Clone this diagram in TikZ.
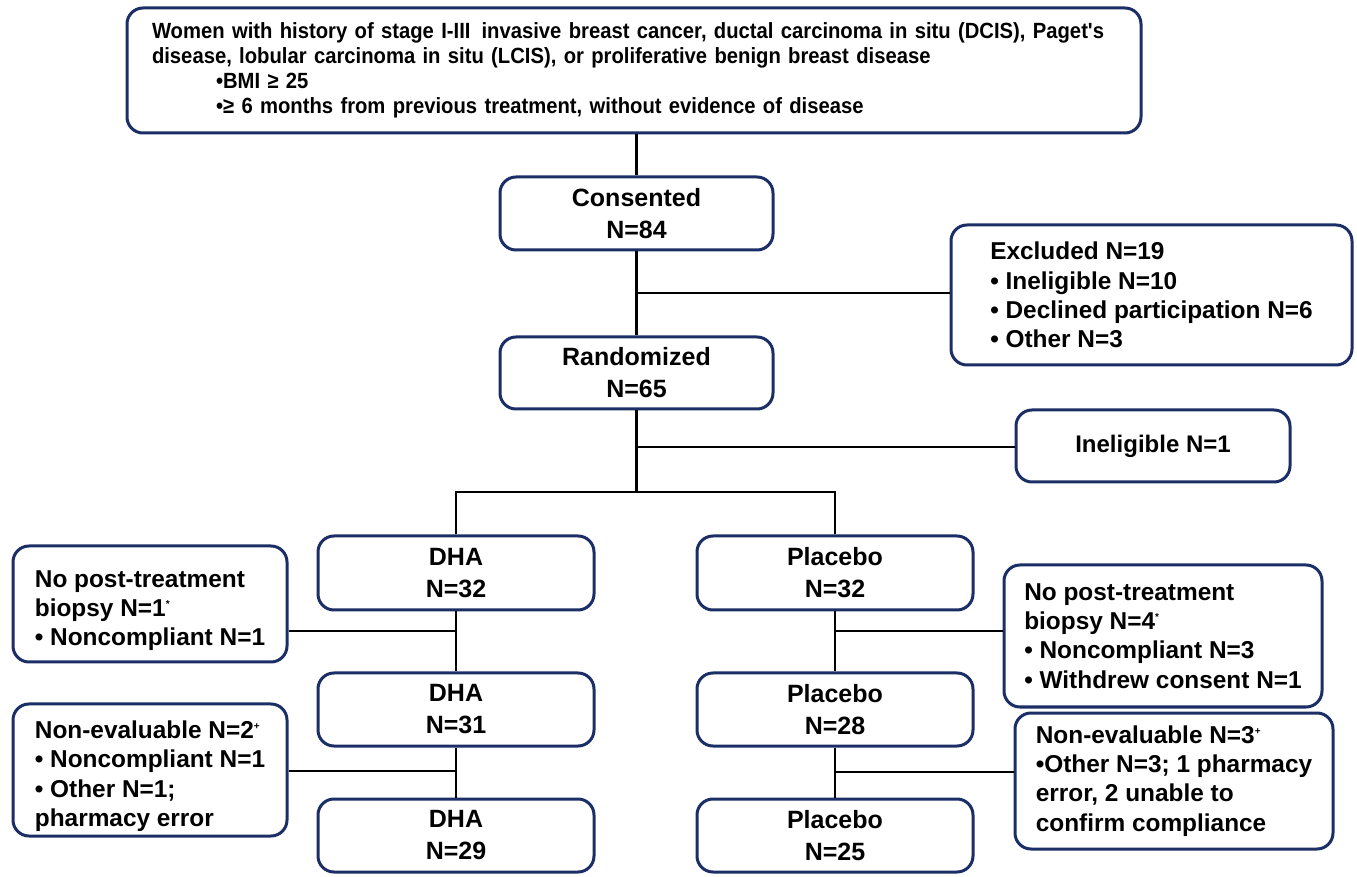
\documentclass[tikz,border=0pt]{standalone}
\usepackage{fontspec}
\setmainfont{Liberation Sans}
\newfontfamily\narrowfont{Liberation Sans}[FakeStretch=0.92]
\usetikzlibrary{positioning}
\definecolor{boxnavy}{RGB}{28,46,102}
\tikzset{
  box/.style={draw=boxnavy, line width=1.5pt, rounded corners=8pt, align=center,
    font=\fontsize{12.5}{16}\selectfont\bfseries, inner sep=0pt},
  sidebox/.style={box, align=left, font=\fontsize{12.2}{14.6}\selectfont\bfseries},
  link/.style={line width=1.4pt, black}
}
\newcommand{\supmark}[1]{\textsuperscript{\tiny #1}}
\newcommand{\lowerstrut}{\rule{0pt}{15pt}}
\begin{document}
\begin{tikzpicture}[x=0.5pt, y=-0.5pt]
  \useasboundingbox (0,0) rectangle (1357,877);

  % eligibility
  \node[box, align=left, minimum width=507pt, minimum height=62.5pt, text width=482pt,
    font=\narrowfont\fontsize{11}{12.5}\selectfont\bfseries] (elig) at (634,70.5)
    {Women with history of stage I-III\, invasive breast cancer, ductal carcinoma in situ (DCIS), Paget's\\
     disease, lobular carcinoma in situ (LCIS), or proliferative benign breast disease\\
     \hspace*{32pt}\textbullet BMI ≥ 25\\
     \hspace*{32pt}\textbullet ≥ 6 months from previous treatment, without evidence of disease\\[4pt]};

  % main column
  \node[box, minimum width=136.5pt, minimum height=36.5pt] (cons) at (636.5,213.5) {Consented\\N=84};
  \node[box, minimum width=136.5pt, minimum height=36pt] (rand) at (636.5,373) {Randomized\\N=65};
  \node[sidebox, minimum width=200.5pt, minimum height=70pt] (excl) at (1151.5,295)
    {Excluded N=19\\\textbullet{} Ineligible N=10\\\textbullet{} Declined participation N=6\\\textbullet{} Other N=3};
  \node[box, minimum width=137pt, minimum height=36pt, font=\fontsize{12}{14}\selectfont\bfseries] (inel) at (1153,446) {Ineligible N=1};

  % arms
  \node[box, minimum width=138pt, minimum height=37pt] (dha1) at (456,573) {DHA\\N=32};
  \node[box, minimum width=138pt, minimum height=36.5pt] (dha2) at (456,709.5) {DHA\\N=31};
  \node[box, minimum width=138pt, minimum height=36.5pt] (dha3) at (456,835.5) {DHA\\N=29};
  \node[box, minimum width=138pt, minimum height=37pt] (pla1) at (835,573) {Placebo\\N=32};
  \node[box, minimum width=138pt, minimum height=36.5pt] (pla2) at (835,709.5) {Placebo\\N=28};
  \node[box, minimum width=138pt, minimum height=36.5pt] (pla3) at (835,835.5) {Placebo\\N=25};

  % losses
  \node[sidebox, minimum width=137pt, minimum height=58pt] (lossa) at (150,604)
    {\lowerstrut No post-treatment\\biopsy N=1\supmark{*}\\\textbullet{} Noncompliant N=1};
  \node[sidebox, minimum width=137pt, minimum height=66pt] (evala) at (150,770)
    {\lowerstrut Non-evaluable N=2\supmark{+}\\\textbullet{} Noncompliant N=1\\\textbullet{} Other N=1;\\pharmacy error};
  \node[sidebox, minimum width=159pt, minimum height=71pt] (lossb) at (1163,636)
    {No post-treatment\\biopsy N=4\supmark{*}\\\textbullet{} Noncompliant N=3\\\textbullet{} Withdrew consent N=1};
  \node[sidebox, minimum width=159pt, minimum height=68pt] (evalb) at (1174,781)
    {Non-evaluable N=3\supmark{+}\\\textbullet Other N=3; 1 pharmacy\\error, 2 unable to\\confirm compliance};

  % connectors
  \coordinate (split) at (636.5,492);
  \coordinate (brexcl) at (636.5,293);
  \coordinate (brinel) at (636.5,447);
  \coordinate (brda) at (456,631);
  \coordinate (brdb) at (456,771);
  \coordinate (brpa) at (835,631);
  \coordinate (brpb) at (835,772);
  \draw[link] (elig.south -| cons.north) -- (cons.north);
  \draw[link] (cons.south) -- (rand.north);
  \draw[link] (brexcl) -- (brexcl -| excl.west);
  \draw[link] (rand.south) -- (split);
  \draw[link] (brinel) -- (brinel -| inel.west);
  \draw[link] (dha1.north) -- (dha1.north |- split) -- (pla1.north |- split) -- (pla1.north);
  \draw[link] (dha1.south) -- (dha2.north);
  \draw[link] (dha2.south) -- (dha3.north);
  \draw[link] (pla1.south) -- (pla2.north);
  \draw[link] (pla2.south) -- (pla3.north);
  \draw[link] (lossa.east |- brda) -- (brda);
  \draw[link] (evala.east |- brdb) -- (brdb);
  \draw[link] (brpa) -- (brpa -| lossb.west);
  \draw[link] (brpb) -- (brpb -| evalb.west);
\end{tikzpicture}
\end{document}
